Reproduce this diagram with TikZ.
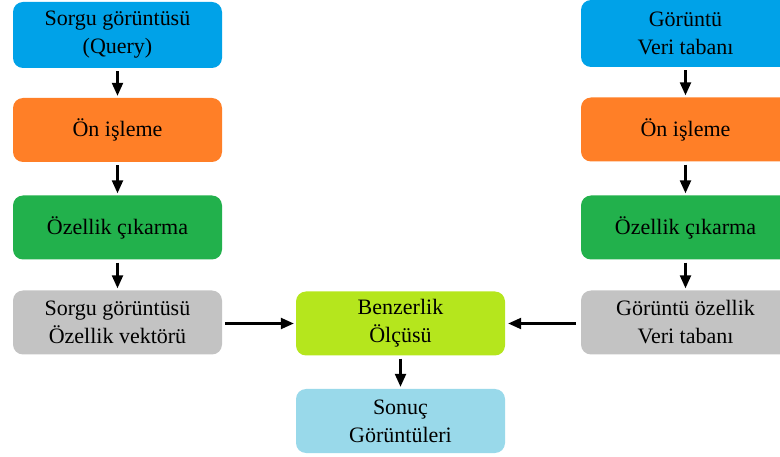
\documentclass[tikz,border=0pt]{standalone}
\usepackage{fontspec}
\setmainfont{Liberation Serif}
\usetikzlibrary{arrows.meta}
\definecolor{cblue}{RGB}{0,162,232}
\definecolor{corange}{RGB}{255,127,39}
\definecolor{cgreen}{RGB}{34,177,76}
\definecolor{cgray}{RGB}{195,195,195}
\definecolor{clime}{RGB}{181,230,29}
\definecolor{cpale}{RGB}{153,217,234}
\tikzset{
  box/.style={rounded corners=10pt, minimum width=209pt, minimum height=64pt,
    align=center, inner sep=0pt, font=\fontsize{22}{28}\selectfont, text=black},
  flow/.style={-{Triangle[length=13pt,width=11pt]}, line width=2.3pt, black,
    shorten <=3pt, shorten >=2pt}
}
\begin{document}
\begin{tikzpicture}[x=1pt,y=-1pt]
\useasboundingbox (0,0) rectangle (780,457);
\clip (0,0) rectangle (780,457);
% query branch
\node[box, fill=cblue, minimum height=66pt] (q1) at (117.5,35) {Sorgu görüntüsü\\(Query)};
\node[box, fill=corange] (q2) at (117.5,130) {Ön işleme};
\node[box, fill=cgreen] (q3) at (117.5,227.5) {Özellik çıkarma};
\node[box, fill=cgray] (q4) at (117.5,322.5) {Sorgu görüntüsü\\Özellik vektörü};
% database branch
\node[box, fill=cblue, minimum height=67pt] (d1) at (685.5,33.5) {Görüntü\\Veri tabanı};
\node[box, fill=corange] (d2) at (685.5,129.5) {Ön işleme};
\node[box, fill=cgreen] (d3) at (685.5,227.5) {Özellik çıkarma};
\node[box, fill=cgray] (d4) at (685.5,322.5) {Görüntü özellik\\Veri tabanı};
% matching and result
\node[box, fill=clime] (m) at (400.5,323.5) {Benzerlik\\Ölçüsü};
\node[box, fill=cpale] (r) at (400.5,421) {Sonuç\\Görüntüleri};
% connectors
\draw[flow] (q1) -- (q2);
\draw[flow] (q2) -- (q3);
\draw[flow] (q3) -- (q4);
\draw[flow] (d1) -- (d2);
\draw[flow] (d2) -- (d3);
\draw[flow] (d3) -- (d4);
\draw[flow] (q4.east |- m.west) -- (m.west);
\draw[flow, shorten <=5pt, shorten >=3pt] (d4.west |- m.east) -- (m.east);
\draw[flow] (m) -- (r);
\end{tikzpicture}
\end{document}
